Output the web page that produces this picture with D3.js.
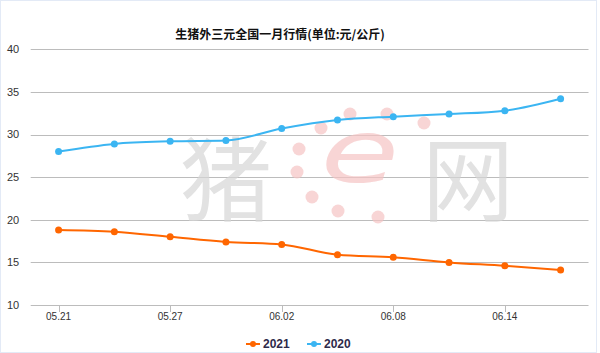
<!DOCTYPE html>
<html>
<head>
<meta charset="utf-8">
<script src="https://cdn.jsdelivr.net/npm/d3@7"></script>
<style>
  body { margin: 0; background: #fff; }
  svg { display: block; font-family: "Liberation Sans", "Noto Sans CJK SC", sans-serif; }
</style>
</head>
<body>
<svg id="chart"></svg>
<script>
// data
const dates = ['05.21', '05.24', '05.27', '05.30', '06.02', '06.05', '06.08', '06.11', '06.14', '06.17'];
const tickDates = ['05.21', '05.27', '06.02', '06.08', '06.14'];
const price2021 = [18.8, 18.6, 18.0, 17.4, 17.1, 15.9, 15.6, 15.0, 14.6, 14.1];
const price2020 = [28.0, 28.9, 29.2, 29.3, 30.7, 31.7, 32.1, 32.4, 32.8, 34.2];
const yTicks = [10, 15, 20, 25, 30, 35, 40];
const seriesNames = ['2021', '2020'];
const seriesColors = ['#ff6600', '#3bb5f2'];

const width = 600, height = 353;
const svg = d3.select('#chart').attr('width', width).attr('height', height);

// light frame
svg.append('rect')
    .attr('x', 0.5).attr('y', 0.5)
    .attr('width', 596).attr('height', height - 1)
    .attr('fill', 'none')
    .attr('stroke', '#e3eaf6');

const x = d3.scaleBand().domain(dates).range([30.7, 588.5]).padding(0);
const y = d3.scaleLinear().domain([10, 40]).range([305, 49.3]);
const cx = d => x(d) + x.bandwidth() / 2;

// gridlines
svg.append('g')
  .selectAll('line')
  .data(yTicks)
  .join('line')
    .attr('x1', 30.7).attr('x2', 588.5)
    .attr('y1', d => Math.round(y(d)) + 0.5)
    .attr('y2', d => Math.round(y(d)) + 0.5)
    .attr('stroke', '#bcbcbc')
    .attr('stroke-width', 1.2);

// y labels
svg.append('g')
  .selectAll('text')
  .data(yTicks)
  .join('text')
    .attr('x', 7)
    .attr('y', d => y(d))
    .attr('dy', '0.35em')
    .attr('font-size', 11)
    .attr('fill', '#333')
    .text(d => d);

// x ticks + labels
const xg = svg.append('g');
xg.selectAll('line')
  .data(tickDates)
  .join('line')
    .attr('x1', d => Math.round(cx(d)) + 0.5)
    .attr('x2', d => Math.round(cx(d)) + 0.5)
    .attr('y1', y(10)).attr('y2', y(10) + 7)
    .attr('stroke', '#bcbcbc');
xg.selectAll('text')
  .data(tickDates)
  .join('text')
    .attr('x', d => cx(d))
    .attr('y', 320)
    .attr('text-anchor', 'middle')
    .attr('font-size', 10)
    .attr('fill', '#333')
    .text(d => d);

// watermark 猪e网
const wm = svg.append('g').attr('opacity', 0.7);
wm.append('text')
    .attr('x', 226).attr('y', 214)
    .attr('text-anchor', 'middle')
    .attr('font-size', 92)
    .attr('font-family', 'Noto Sans CJK SC')
    .attr('fill', '#d6d6d6')
    .text('猪');
wm.append('text')
    .attr('x', 468).attr('y', 214)
    .attr('text-anchor', 'middle')
    .attr('font-size', 92)
    .attr('font-family', 'Noto Sans CJK SC')
    .attr('fill', '#d6d6d6')
    .text('网');
wm.append('text')
    .attr('x', 360).attr('y', 180)
    .attr('text-anchor', 'middle')
    .attr('font-size', 80)
    .attr('font-style', 'italic')
    .attr('font-family', 'DejaVu Sans')
    .attr('fill', '#f6c4c4')
    .attr('transform', 'translate(360,158) scale(1.6,1.1) translate(-360,-158)')
    .text('e');
const dots = [[350, 114], [387, 114], [424, 123], [321, 128], [299, 149], [297, 172], [312, 197], [338, 211], [378, 217]];
wm.selectAll('circle')
  .data(dots)
  .join('circle')
    .attr('cx', d => d[0]).attr('cy', d => d[1])
    .attr('r', 6.5)
    .attr('fill', '#f6c4c4');

// lines
const line = d3.line()
    .x((d, i) => cx(dates[i]))
    .y(d => y(d))
    .curve(d3.curveMonotoneX);

[price2021, price2020].forEach((vals, k) => {
  const g = svg.append('g');
  g.append('path')
      .datum(vals)
      .attr('d', line)
      .attr('fill', 'none')
      .attr('stroke', seriesColors[k])
      .attr('stroke-width', 2);
  g.selectAll('circle')
    .data(vals)
    .join('circle')
      .attr('cx', (d, i) => cx(dates[i]))
      .attr('cy', d => y(d))
      .attr('r', 3.5)
      .attr('fill', seriesColors[k]);
});

// title
svg.append('text')
    .attr('x', 280).attr('y', 39)
    .attr('text-anchor', 'middle')
    .attr('font-size', 12)
    .attr('font-weight', 'bold')
    .attr('font-family', '"Noto Sans CJK SC", sans-serif')
    .attr('fill', '#111')
    .text('生猪外三元全国一月行情(单位:元/公斤)');

// legend
const legend = svg.append('g')
  .selectAll('g')
  .data(seriesNames)
  .join('g')
    .attr('transform', (d, i) => `translate(${246 + i * 61},344)`);
legend.append('line')
    .attr('x1', 0).attr('x2', 14)
    .attr('stroke', (d, i) => seriesColors[i])
    .attr('stroke-width', 2);
legend.append('circle')
    .attr('cx', 7).attr('r', 3)
    .attr('fill', (d, i) => seriesColors[i]);
legend.append('text')
    .attr('x', 17)
    .attr('dy', '0.35em')
    .attr('font-size', 12)
    .attr('font-weight', 'bold')
    .attr('fill', '#2e2a4a')
    .text(d => d);
</script>
</body>
</html>
